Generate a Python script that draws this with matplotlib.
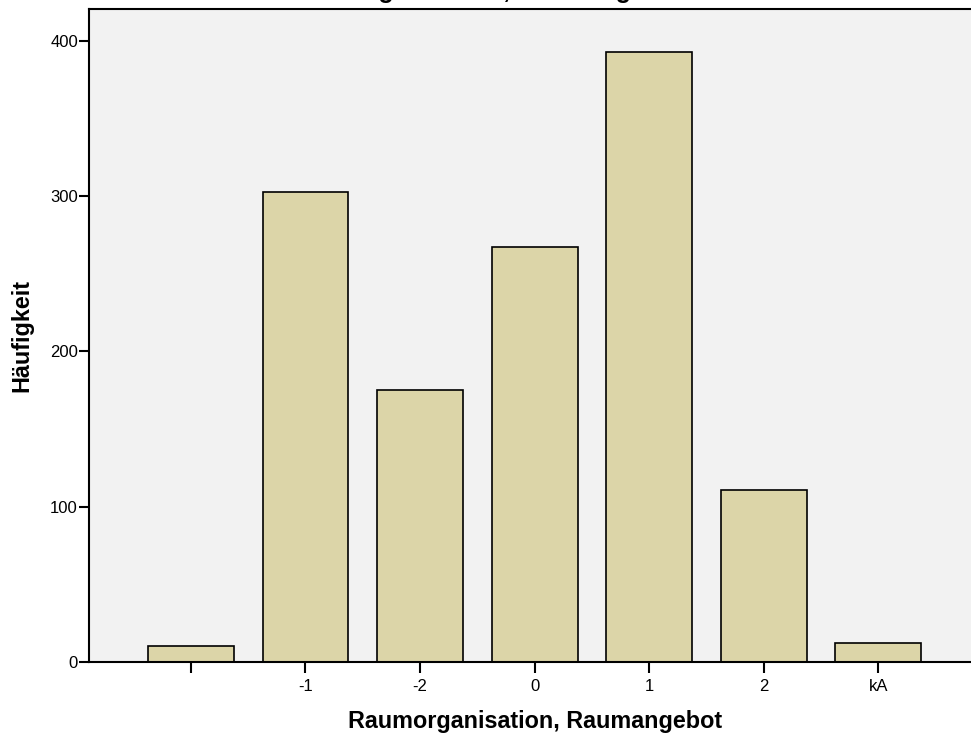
import numpy as np
import matplotlib
matplotlib.use("Agg")
import matplotlib.pyplot as plt

plt.rcParams['font.family'] = ['Liberation Sans', 'DejaVu Sans']

# categories and counts
categories = ["", "-1", "-2", "0", "1", "2", "kA"]
counts = [10, 303, 175, 267, 393, 111, 12]

fig = plt.figure(figsize=(9.71, 7.38), dpi=100)
ax = fig.add_axes([89 / 971, 76 / 738, 1 - 89 / 971, (662 - 9) / 738])
ax.set_facecolor("#F2F2F2")

x = np.arange(len(categories))
ax.bar(x, counts, width=0.75, color="#DCD5A8", edgecolor="black", linewidth=1.2, zorder=2)

ax.set_xlim(-0.89, 6.81)
ax.set_ylim(0, 420.6)
ax.set_xticks(x)
ax.set_xticklabels(categories, fontsize=12)
ax.set_yticks([0, 100, 200, 300, 400])
ax.tick_params(axis="y", labelsize=12, length=7.5, width=1.5, pad=0.5)
ax.tick_params(axis="x", length=8, width=1.5, pad=4)

for side in ["left", "bottom", "top"]:
    ax.spines[side].set_linewidth(1.5)
ax.spines["right"].set_visible(False)

ax.set_xlabel("Raumorganisation, Raumangebot", fontsize=16.8, fontweight="bold")
ax.xaxis.set_label_coords(0.506, -0.074)
ax.set_ylabel("Häufigkeit", fontsize=16.8, fontweight="bold", labelpad=12)

# title sits mostly outside the canvas, only descenders show
fig.text(484 / 971, 1 + 2 / 738, "Raumorganisation, Raumangebot",
         fontsize=18, fontweight="bold", ha="center", va="baseline")

fig.savefig("out.png", dpi=100)
